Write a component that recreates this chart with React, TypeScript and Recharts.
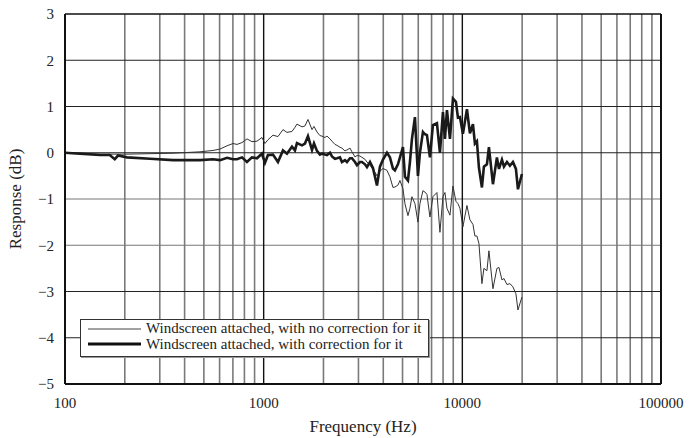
import React from 'react';
import { LineChart, Line, XAxis, YAxis, ReferenceLine, Legend, Label } from 'recharts';

const freqs = [100, 119, 150, 168, 178, 185, 205, 268, 350, 478, 556, 603, 654, 701, 734, 778, 824, 873, 925, 980, 1015, 1051, 1114, 1180, 1251, 1310, 1388, 1437, 1471, 1559, 1614, 1671, 1751, 1792, 1855, 1920, 1965, 2035, 2083, 2156, 2207, 2285, 2338, 2421, 2478, 2566, 2626, 2719, 2783, 2881, 2949, 3053, 3124, 3235, 3311, 3428, 3549, 3633, 3718, 3849, 3985, 4174, 4321, 4474, 4579, 4741, 4853, 5024, 5142, 5324, 5449, 5577, 5774, 5978, 6118, 6335, 6483, 6635, 6869, 7112, 7450, 7714, 7988, 8175, 8367, 8663, 8968, 9286, 9503, 9725, 10070, 10550, 10920, 11310, 11570, 11840, 12120, 12550, 12840, 13300, 13610, 14260, 14930, 15290, 15830, 16200, 16770, 17360, 17980, 18610, 19050, 19950];

const noCorrection = [0, -0.01, -0.03, -0.03, -0.03, -0.03, -0.03, -0.02, -0.01, 0.02, 0.05, 0.08, 0.15, 0.2, 0.18, 0.22, 0.3, 0.24, 0.25, 0.33, 0.2, 0.28, 0.38, 0.35, 0.5, 0.44, 0.46, 0.55, 0.62, 0.56, 0.58, 0.72, 0.5, 0.57, 0.45, 0.37, 0.36, 0.33, 0.36, 0.3, 0.25, 0.18, 0.16, 0.12, 0.1, 0.04, 0.06, 0.1, 0.02, -0.09, -0.06, -0.07, -0.1, -0.14, -0.2, -0.27, -0.36, -0.42, -0.5, -0.4, -0.34, -0.38, -0.52, -0.75, -0.74, -0.7, -0.6, -0.78, -1.1, -1.36, -1.2, -0.95, -1.1, -1.5, -1.1, -0.82, -0.85, -0.9, -1.39, -0.95, -0.86, -1.72, -0.95, -0.86, -1.2, -1.35, -0.72, -1.05, -1.1, -1.2, -1.6, -1.14, -1.45, -1.55, -1.8, -1.8, -1.96, -2.83, -2.5, -2.55, -2.12, -2.94, -2.5, -2.48, -2.75, -2.72, -2.85, -2.83, -2.9, -3.05, -3.4, -3.12];

const withCorrection = [0, -0.02, -0.05, -0.05, -0.14, -0.06, -0.1, -0.13, -0.16, -0.16, -0.14, -0.16, -0.11, -0.14, -0.14, -0.1, -0.2, -0.1, -0.12, -0.02, -0.22, -0.05, -0.04, -0.2, 0.05, -0.02, 0.13, 0.05, 0.21, 0.16, 0.2, 0.36, 0.06, 0.2, 0.04, -0.04, -0.02, -0.04, -0.05, 0, -0.08, -0.13, -0.12, -0.1, -0.2, -0.16, -0.2, -0.12, -0.12, -0.2, -0.27, -0.2, -0.2, -0.25, -0.31, -0.2, -0.33, -0.52, -0.71, -0.3, -0.15, 0, -0.1, -0.34, -0.38, -0.25, -0.1, 0.12, -0.52, -0.6, -0.2, 0.3, 0.77, -0.5, 0, 0.45, 0.4, 0.38, -0.1, 0.6, 0.64, 0, 0.88, 0.3, 0.92, 0.3, 1.17, 1.1, 0.76, 0.77, 0.41, 0.94, 0.42, 0.62, 0.2, 0.25, -0.32, -0.75, -0.3, -0.25, 0.12, -0.68, -0.1, -0.35, -0.15, -0.3, -0.2, -0.28, -0.2, -0.35, -0.79, -0.46];

const xTicks = [100, 1000, 10000, 100000];
const yTicks = [-5, -4, -3, -2, -1, 0, 1, 2, 3];
const minorFreqs = [200, 300, 400, 500, 600, 700, 800, 900, 2000, 3000, 4000, 5000, 6000, 7000, 8000, 9000, 20000, 30000, 40000, 50000, 60000, 70000, 80000, 90000];
const majorFreqs = [1000, 10000];
const hLines = [-4, -3, -2, -1, 0, 1, 2];
const grayHLines = [-1, -2];

const seriesNames = ['Windscreen attached, with no correction for it', 'Windscreen attached, with correction for it'];

const data = freqs.map((f, i) => ({ f, u: noCorrection[i], c: withCorrection[i] }));

const FONT = "'Liberation Serif', 'DejaVu Serif', 'Noto Serif', serif";

const fmt = (v: number) => (v < 0 ? '\u2212' + Math.abs(v) : String(v));

const LegendBox = () => (
  <div
    style={{
      position: 'relative',
      width: 349,
      height: 38,
      boxSizing: 'border-box',
      border: '1px solid #333',
      background: '#fff',
      boxShadow: '1px 1px 0 #999',
      fontFamily: FONT,
      fontSize: 15,
      color: '#222',
    }}
  >
    {seriesNames.map((name, i) => (
      <div key={name} style={{ position: 'absolute', left: 7, top: 1 + i * 15.5, height: 15.5, display: 'flex', alignItems: 'center', whiteSpace: 'nowrap' }}>
        <svg width={53} height={6} style={{ marginRight: 5 }}>
          <line x1={0} x2={53} y1={3} y2={3} stroke={i === 0 ? '#444' : '#111'} strokeWidth={i === 0 ? 1 : 3} />
        </svg>
        <span style={{ lineHeight: '15.5px', fontFamily: FONT }}>{name}</span>
      </div>
    ))}
  </div>
);

export default function App() {
  return (
    <div style={{ position: 'absolute', left: 0, top: 0, width: 693, height: 438, background: '#fff', fontFamily: FONT }}>
      <LineChart width={693} height={438} data={data} margin={{ top: 14, right: 32, bottom: 24, left: 20 }} style={{ fontFamily: FONT }}>
        {minorFreqs.map((f) => (
          <ReferenceLine key={'m' + f} x={f} stroke="#7a7a7a" strokeWidth={1.6} />
        ))}
        {hLines.map((v) => (
          <ReferenceLine key={'h' + v} y={v} stroke={grayHLines.includes(v) ? '#777' : '#222'} strokeWidth={1.2} />
        ))}
        {majorFreqs.map((f) => (
          <ReferenceLine key={'M' + f} x={f} stroke="#111" strokeWidth={1.4} />
        ))}
        <ReferenceLine y={3} stroke="#111" strokeWidth={1.5} />
        <ReferenceLine x={100000} stroke="#111" strokeWidth={2} />
        <XAxis
          dataKey="f"
          type="number"
          scale="log"
          domain={[100, 100000]}
          ticks={xTicks}
          allowDataOverflow
          height={30}
          tickSize={0}
          tickMargin={13}
          axisLine={{ stroke: '#111', strokeWidth: 2 }}
          tick={{ fill: '#222', fontSize: 15, fontFamily: FONT, style: { fontFamily: FONT } }}
        >
          <Label value="Frequency (Hz)" position="bottom" offset={6} fontFamily={FONT} style={{ fill: '#222', fontSize: 17, fontFamily: FONT }} />
        </XAxis>
        <YAxis
          type="number"
          domain={[-5, 3]}
          ticks={yTicks}
          width={45}
          tickSize={0}
          tickMargin={11}
          tickFormatter={fmt}
          axisLine={{ stroke: '#111', strokeWidth: 2 }}
          tick={{ fill: '#222', fontSize: 15, fontFamily: FONT, style: { fontFamily: FONT } }}
        >
          <Label value="Response (dB)" angle={-90} position="insideLeft" offset={-5} textAnchor="middle" fontFamily={FONT} style={{ fill: '#222', fontSize: 17, fontFamily: FONT, textAnchor: 'middle' }} />
        </YAxis>
        <Legend
          layout="vertical"
          verticalAlign="middle"
          align="center"
          content={() => <LegendBox />}
          wrapperStyle={{ left: 80, top: 319, width: 349, height: 38 }}
        />
        <Line dataKey="u" name={seriesNames[0]} type="linear" stroke="#333" strokeWidth={1} dot={false} isAnimationActive={false} />
        <Line dataKey="c" name={seriesNames[1]} type="linear" stroke="#1a1a1a" strokeWidth={2.6} dot={false} isAnimationActive={false} />
      </LineChart>
    </div>
  );
}
